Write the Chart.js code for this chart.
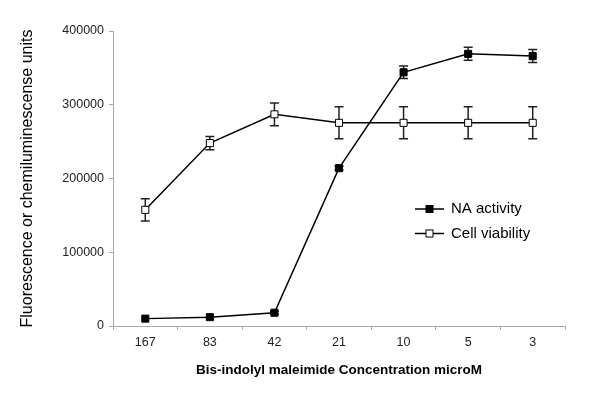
<!DOCTYPE html>
<html>
<head>
<meta charset="utf-8">
<script src="https://cdn.jsdelivr.net/npm/chart.js@4/dist/chart.umd.min.js"></script>
<style>
  html, body { margin: 0; padding: 0; background: #fff; }
  #wrap { width: 600px; height: 400px; }
</style>
</head>
<body>
<div id="wrap"><canvas id="myChart"></canvas></div>
<script>
const concentrations = ['167', '83', '42', '21', '10', '5', '3'];
const naActivity = [10000, 12000, 18000, 214000, 344000, 369000, 366000];
const naError = [0, 0, 2000, 2500, 8500, 8800, 8800];
const cellViability = [157500, 248000, 287000, 275500, 275500, 275500, 275500];
const cellError = [15200, 9000, 15400, 21700, 21700, 21700, 21700];
const yTicks = [0, 100000, 200000, 300000, 400000];

const errors = [naError, cellError];

// error bars drawn under the markers
const errorBars = {
  id: 'errorBars',
  beforeDatasetsDraw(chart) {
    const ctx = chart.ctx;
    const y = chart.scales.y;
    ctx.save();
    ctx.strokeStyle = '#222';
    ctx.lineWidth = 1.5;
    chart.data.datasets.forEach((ds, i) => {
      const meta = chart.getDatasetMeta(i);
      meta.data.forEach((pt, j) => {
        const err = errors[i][j];
        if (!err) return;
        const top = y.getPixelForValue(ds.data[j] + err);
        const bot = y.getPixelForValue(ds.data[j] - err);
        ctx.beginPath();
        ctx.moveTo(pt.x, top); ctx.lineTo(pt.x, bot);
        ctx.moveTo(pt.x - 4.5, top); ctx.lineTo(pt.x + 4.5, top);
        ctx.moveTo(pt.x - 4.5, bot); ctx.lineTo(pt.x + 4.5, bot);
        ctx.stroke();
      });
    });
    ctx.restore();
  }
};

// legend inside the plot area
const insideLegend = {
  id: 'insideLegend',
  afterDraw(chart) {
    const ctx = chart.ctx;
    ctx.save();
    ctx.font = '15px "Liberation Sans", Arial, sans-serif';
    ctx.textBaseline = 'middle';
    chart.data.datasets.forEach((ds, i) => {
      const yy = 209 + i * 24.5;
      ctx.strokeStyle = '#000';
      ctx.lineWidth = 1.5;
      ctx.beginPath();
      ctx.moveTo(415, yy); ctx.lineTo(444, yy);
      ctx.stroke();
      ctx.fillStyle = ds.pointBackgroundColor;
      ctx.lineWidth = 1;
      ctx.fillRect(426, yy - 3.5, 7, 7);
      ctx.strokeRect(426, yy - 3.5, 7, 7);
      ctx.fillStyle = '#000';
      ctx.fillText(ds.label, 451, yy);
    });
    ctx.restore();
  }
};

const tickFont = { family: '"Liberation Sans", Arial, sans-serif', size: 12.5 };

new Chart(document.getElementById('myChart'), {
  type: 'line',
  data: {
    labels: concentrations,
    datasets: [
      {
        label: 'NA activity',
        data: naActivity,
        borderColor: '#000',
        borderWidth: 1.5,
        pointStyle: 'rect',
        pointRadius: 5,
        pointBorderWidth: 1,
        pointBorderColor: '#000',
        pointBackgroundColor: '#000',
        tension: 0
      },
      {
        label: 'Cell viability',
        data: cellViability,
        borderColor: '#000',
        borderWidth: 1.5,
        pointStyle: 'rect',
        pointRadius: 5,
        pointBorderWidth: 1,
        pointBorderColor: '#000',
        pointBackgroundColor: '#fff',
        tension: 0
      }
    ]
  },
  options: {
    responsive: true,
    maintainAspectRatio: false,
    animation: false,
    layout: { padding: { left: 0, right: 35, top: 31, bottom: 22 } },
    plugins: {
      legend: { display: false },
      tooltip: { enabled: false }
    },
    scales: {
      x: {
        offset: true,
        grid: { display: true, offset: true, drawOnChartArea: false, drawTicks: true, tickLength: 4, color: '#a8a8a8' },
        border: { color: '#a8a8a8', width: 1 },
        ticks: { font: tickFont, color: '#222', padding: 5, maxRotation: 0 },
        title: {
          display: true,
          text: 'Bis-indolyl maleimide Concentration microM',
          font: { family: '"Liberation Sans", Arial, sans-serif', size: 13.5, weight: 'bold' },
          color: '#000',
          padding: { top: 0, bottom: 0 }
        },
        afterFit: s => { s.height = 52; }
      },
      y: {
        min: 0,
        max: 400000,
        afterBuildTicks: s => { s.ticks = yTicks.map(v => ({ value: v })); },
        grid: { display: true, drawOnChartArea: false, drawTicks: true, tickLength: 4, color: '#a8a8a8' },
        border: { color: '#a8a8a8', width: 1 },
        ticks: { font: tickFont, color: '#222', padding: 5, callback: v => String(v) },
        title: {
          display: true,
          text: 'Fluorescence or chemiluminescense units',
          font: { family: '"Liberation Sans", Arial, sans-serif', size: 16 },
          color: '#000',
          padding: { top: 18, bottom: 0 }
        },
        afterFit: s => { s.width = 113; }
      }
    }
  },
  plugins: [errorBars, insideLegend]
});
</script>
</body>
</html>
